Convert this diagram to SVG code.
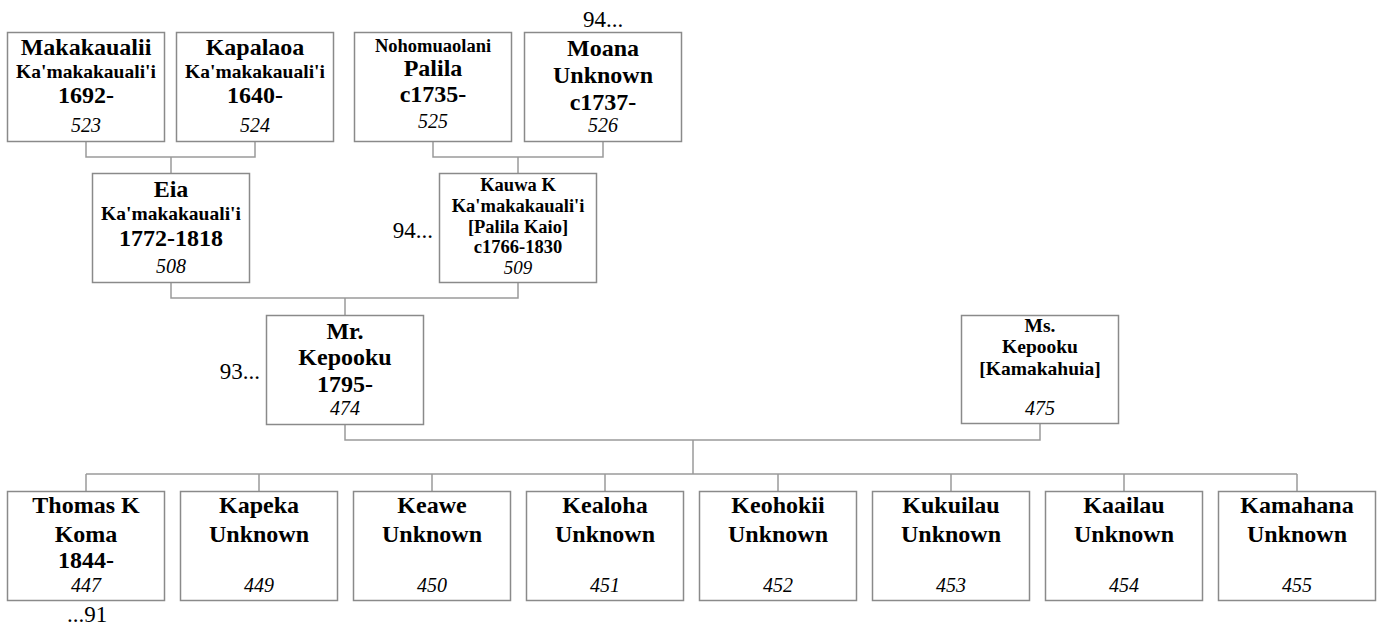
<svg xmlns="http://www.w3.org/2000/svg" width="1380" height="626" viewBox="0 0 1380 626">
<style>
rect.box{fill:#fff;stroke:#8a8a8a;stroke-width:1.5}
.con path{fill:none;stroke:#9a9a9a;stroke-width:1.5}
text{font-family:"Liberation Serif","Times New Roman",serif;fill:#000;text-anchor:middle}
.big{font-size:24px;font-weight:bold}
.med{font-size:19.5px;font-weight:bold}
.sm{font-size:18.5px;font-weight:bold}
.yr{font-size:24px;font-weight:bold}
.id{font-size:20px;font-style:italic}
.ref{font-size:23px}
</style>
<rect width="1380" height="626" fill="#fff"/>
<g class="con" id="connectors">
<path d="M86 141.5V157H255V141.5M171 157V173.5"/>
<path d="M433 141.5V157H603V141.5M518 157V173.5"/>
<path d="M171 282.5V298H518V282.5M345 298V315.5"/>
<path d="M345 424.5V440H1040V423.5M693 440V474"/>
<path d="M86 474H1297M86 474V491.5M259 474V491.5M432 474V491.5M605 474V491.5M778 474V491.5M951 474V491.5M1124 474V491.5M1297 474V491.5"/>
</g>
<g id="n523"><rect class="box" x="7.5" y="32.5" width="157" height="109"/>
<text x="86" y="55" class="big">Makakaualii</text><text x="86" y="78" class="med">Ka'makakauali'i</text><text x="86" y="103" class="yr">1692-</text><text x="86" y="132" class="id">523</text></g>
<g id="n524"><rect class="box" x="176.5" y="32.5" width="157" height="109"/>
<text x="255" y="55" class="big">Kapalaoa</text><text x="255" y="78" class="med">Ka'makakauali'i</text><text x="255" y="103" class="yr">1640-</text><text x="255" y="132" class="id">524</text></g>
<g id="n525"><rect class="box" x="354.5" y="32.5" width="157" height="109"/>
<text x="433" y="52" class="sm">Nohomuaolani</text><text x="433" y="76" class="big">Palila</text><text x="433" y="102" class="yr">c1735-</text><text x="433" y="128" class="id">525</text></g>
<g id="n526"><rect class="box" x="524.5" y="32.5" width="157" height="109"/>
<text x="603" y="56" class="big">Moana</text><text x="603" y="83" class="big">Unknown</text><text x="603" y="110" class="yr">c1737-</text><text x="603" y="132" class="id">526</text>
<text x="603" y="27" class="ref">94...</text></g>
<g id="n508"><rect class="box" x="92.5" y="173.5" width="157" height="109"/>
<text x="171" y="197" class="big">Eia</text><text x="171" y="220" class="med">Ka'makakauali'i</text><text x="171" y="246" class="yr">1772-1818</text><text x="171" y="273" class="id">508</text></g>
<g id="n509"><rect class="box" x="439.5" y="173.5" width="157" height="109"/>
<g class="sm"><text x="518" y="191">Kauwa K</text><text x="518" y="212">Ka'makakauali'i</text><text x="518" y="233">[Palila Kaio]</text><text x="518" y="253">c1766-1830</text></g><text x="518" y="274" class="id" style="font-size:19px">509</text>
<text x="433" y="238" class="ref" style="text-anchor:end">94...</text></g>
<g id="n474"><rect class="box" x="266.5" y="315.5" width="157" height="109"/>
<text x="345" y="339" class="big">Mr.</text><text x="345" y="365" class="big">Kepooku</text><text x="345" y="392" class="yr">1795-</text><text x="345" y="415" class="id">474</text>
<text x="260" y="379" class="ref" style="text-anchor:end">93...</text></g>
<g id="n475"><rect class="box" x="961.5" y="315.5" width="157" height="108"/>
<text x="1040" y="332" class="med">Ms.</text><text x="1040" y="353" class="med">Kepooku</text><text x="1040" y="375" class="med">[Kamakahuia]</text><text x="1040" y="415" class="id">475</text></g>
<g id="n447"><rect class="box" x="7.5" y="491.5" width="157" height="109"/>
<text x="86" y="513" class="big">Thomas K</text><text x="86" y="542" class="big">Koma</text><text x="86" y="568" class="yr">1844-</text><text x="86" y="592" class="id">447</text>
<text x="87" y="622" class="ref">...91</text></g>
<g id="n449"><rect class="box" x="180.5" y="491.5" width="157" height="109"/>
<text x="259" y="513" class="big">Kapeka</text><text x="259" y="542" class="big">Unknown</text><text x="259" y="592" class="id">449</text></g>
<g id="n450"><rect class="box" x="353.5" y="491.5" width="157" height="109"/>
<text x="432" y="513" class="big">Keawe</text><text x="432" y="542" class="big">Unknown</text><text x="432" y="592" class="id">450</text></g>
<g id="n451"><rect class="box" x="526.5" y="491.5" width="157" height="109"/>
<text x="605" y="513" class="big">Kealoha</text><text x="605" y="542" class="big">Unknown</text><text x="605" y="592" class="id">451</text></g>
<g id="n452"><rect class="box" x="699.5" y="491.5" width="157" height="109"/>
<text x="778" y="513" class="big">Keohokii</text><text x="778" y="542" class="big">Unknown</text><text x="778" y="592" class="id">452</text></g>
<g id="n453"><rect class="box" x="872.5" y="491.5" width="157" height="109"/>
<text x="951" y="513" class="big">Kukuilau</text><text x="951" y="542" class="big">Unknown</text><text x="951" y="592" class="id">453</text></g>
<g id="n454"><rect class="box" x="1045.5" y="491.5" width="157" height="109"/>
<text x="1124" y="513" class="big">Kaailau</text><text x="1124" y="542" class="big">Unknown</text><text x="1124" y="592" class="id">454</text></g>
<g id="n455"><rect class="box" x="1218.5" y="491.5" width="157" height="109"/>
<text x="1297" y="513" class="big">Kamahana</text><text x="1297" y="542" class="big">Unknown</text><text x="1297" y="592" class="id">455</text></g>
</svg>
